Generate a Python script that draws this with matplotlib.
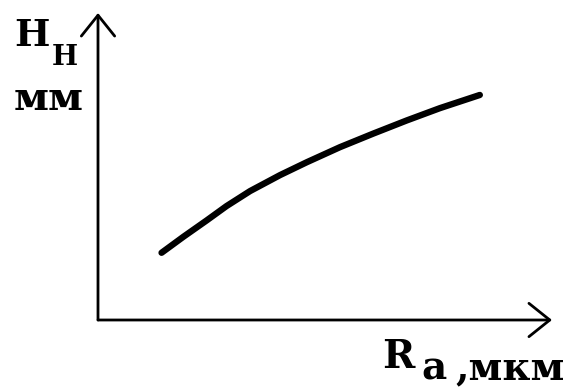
import matplotlib.pyplot as plt

# шероховатость Ra (усл. ед.) и высота H (усл. ед.)
ra = [1.40, 1.88, 2.39, 2.83, 3.35, 4.01, 4.60, 5.33, 6.06, 6.80, 7.53, 8.41]
h = [2.19, 2.71, 3.24, 3.71, 4.20, 4.72, 5.14, 5.63, 6.07, 6.50, 6.90, 7.33]

W, H = 580, 388
fig = plt.figure(figsize=(W / 100, H / 100), dpi=100)
ax = fig.add_axes([98 / W, (H - 320) / H, (552 - 98) / W, (320 - 13) / H])
ax.set_xlim(0, 10)
ax.set_ylim(0, 10)
ax.axis('off')

ax.plot(ra, h, color='black', lw=4.6, solid_capstyle='round', solid_joinstyle='round')

arr = dict(arrowstyle='->, head_length=0.75, head_width=0.6', lw=2,
           color='black', mutation_scale=20, shrinkA=0, shrinkB=0)
ax.annotate('', xy=(10, 0), xytext=(0, 0), arrowprops=arr, annotation_clip=False)
ax.annotate('', xy=(0, 10), xytext=(0, 0), arrowprops=arr, annotation_clip=False)

f = dict(family='DejaVu Serif', weight='bold', color='black', ha='left', va='baseline')
fig.text(14 / W, 1 - 46 / H, 'H', fontsize=27, **f)
fig.text(52 / W, 1 - 65 / H, 'Н', fontsize=20, **f)
fig.text(14 / W, 1 - 110 / H, 'мм', fontsize=29, **f)
fig.text(382 / W, 1 - 368 / H, 'R', fontsize=28, **f)
fig.text(421 / W, 1 - 379 / H, 'a', fontsize=28, **f)
fig.text(455 / W, 1 - 379 / H, ',мкм', fontsize=28, **f)

fig.savefig('out.png', dpi=100)
